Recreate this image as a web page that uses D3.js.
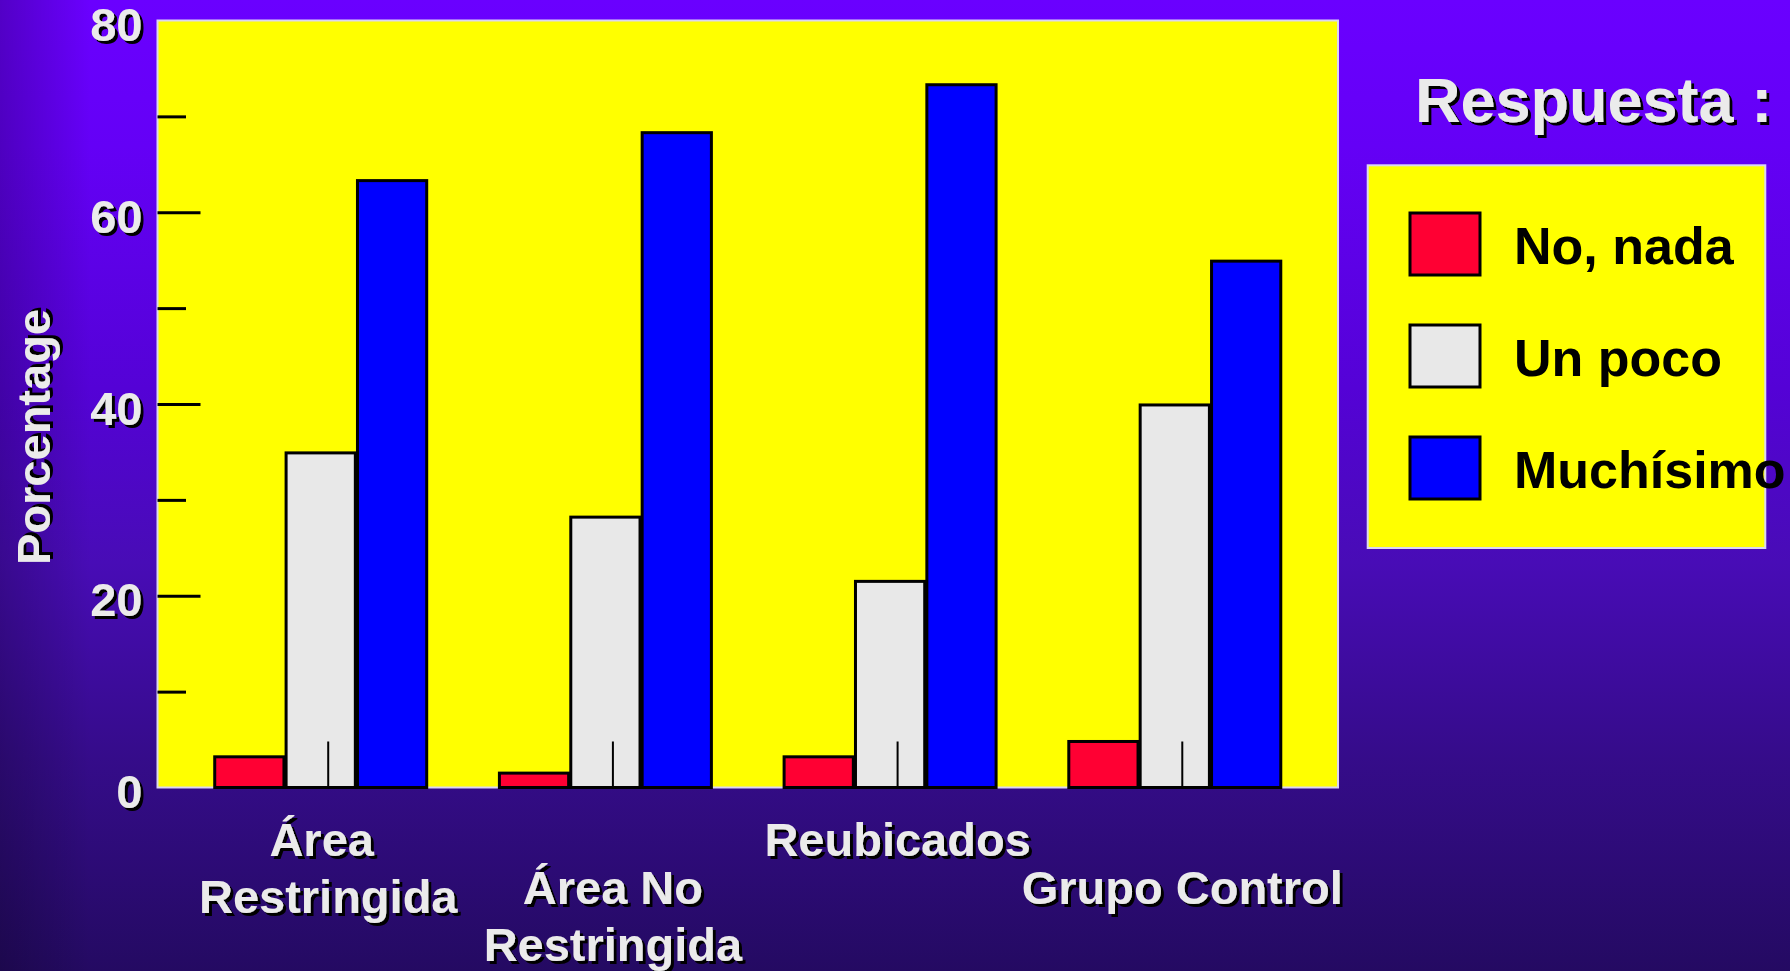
<!DOCTYPE html>
<html>
<head>
<meta charset="utf-8">
<script src="https://cdn.jsdelivr.net/npm/d3@7"></script>
<style>
  body { margin: 0; overflow: hidden; }
  text { font-family: "Liberation Sans", Arial, sans-serif; font-weight: bold; }
</style>
</head>
<body>
<div id="viz"></div>
<script>
// data
var categories = ["Área Restringida", "Área No Restringida", "Reubicados", "Grupo Control"];
// the first label wraps after "Área " and keeps its trailing space when centred
var categoryLines = [["Área\u00a0", "Restringida"], ["Área No", "Restringida"], ["Reubicados"], ["Grupo Control"]];
var seriesNames = ["No, nada", "Un poco", "Muchísimo"];
var seriesColors = ["#ff0033", "#e8e8e8", "#0000ff"];
var noNada = [3.2, 1.5, 3.2, 4.8];
var unPoco = [34.9, 28.2, 21.5, 39.9];
var muchisimo = [63.3, 68.3, 73.3, 54.9];
var majorTicks = [0, 20, 40, 60, 80];
var minorTicks = [10, 30, 50, 70];

var series = [noNada, unPoco, muchisimo];

var W = 1790, H = 971;
// plot box (note: "top" is taken by window.top, so use plot* names)
var plotLeft = 157.5, plotRight = 1338, plotTop = 20.5, plotBottom = 787.5;

var svg = d3.select("#viz").append("svg")
    .attr("width", W)
    .attr("height", H);

var defs = svg.append("defs");

// background: violet to dark purple, a bit darker on the left edge
var bg = defs.append("linearGradient").attr("id", "bg")
    .attr("x1", 0).attr("y1", 0).attr("x2", 0).attr("y2", 1);
[[0, "#6a00ff"], [0.15, "#6400f6"], [0.4, "#5402d6"], [0.58, "#480cb6"],
 [0.78, "#350c8a"], [1, "#240a62"]].forEach(function(s) {
  bg.append("stop").attr("offset", s[0]).attr("stop-color", s[1]);
});
var edge = defs.append("linearGradient").attr("id", "edge")
    .attr("x1", 0).attr("y1", 0).attr("x2", 1).attr("y2", 0);
edge.append("stop").attr("offset", 0).attr("stop-color", "#000").attr("stop-opacity", 0.22);
edge.append("stop").attr("offset", 1).attr("stop-color", "#000").attr("stop-opacity", 0);

var shadow = defs.append("filter").attr("id", "shadow")
    .attr("x", "-10%").attr("y", "-20%").attr("width", "130%").attr("height", "150%");
shadow.append("feDropShadow").attr("dx", 3).attr("dy", 3)
    .attr("stdDeviation", 0).attr("flood-color", "#000").attr("flood-opacity", 1);

svg.append("rect").attr("width", W).attr("height", H).attr("fill", "url(#bg)");
svg.append("rect").attr("width", 90).attr("height", H).attr("fill", "url(#edge)");

// scales
var x = d3.scaleBand()
    .domain(categories)
    .range([plotLeft, plotRight])
    .paddingInner(0.2554)
    .paddingOuter(0.201);

var xs = d3.scaleBand()
    .domain(d3.range(series.length))
    .range([0, x.bandwidth()])
    .paddingInner(0.03);

var y = d3.scaleLinear()
    .domain([0, 80])
    .range([plotBottom, plotTop]);

// the category ticks/labels sit a little right of the bar group centres
var tickShift = 7.5;

// plot area
svg.append("rect")
    .attr("x", plotLeft).attr("y", plotTop)
    .attr("width", plotRight - plotLeft).attr("height", plotBottom - plotTop)
    .attr("fill", "#ffff00")
    .attr("stroke", "#dcd6f2")
    .attr("stroke-width", 2);

// bars
var groups = svg.append("g").selectAll("g")
    .data(categories)
    .join("g")
    .attr("transform", function(d) { return "translate(" + x(d) + ",0)"; });

groups.selectAll("rect")
    .data(function(d, i) { return series.map(function(s, k) { return {k: k, v: s[i]}; }); })
    .join("rect")
    .attr("x", function(d) { return xs(d.k); })
    .attr("y", function(d) { return y(d.v); })
    .attr("width", xs.bandwidth())
    .attr("height", function(d) { return plotBottom - y(d.v); })
    .attr("fill", function(d) { return seriesColors[d.k]; })
    .attr("stroke", "#000")
    .attr("stroke-width", 3);

// category ticks pointing up into the plot
var xAxis = svg.append("g")
    .attr("transform", "translate(" + tickShift + "," + plotBottom + ")")
    .call(d3.axisBottom(x).tickSize(-46).tickFormat(""));
xAxis.select(".domain").remove();
xAxis.selectAll(".tick line").attr("stroke", "#000").attr("stroke-width", 2);

// y axis: major and minor ticks drawn inside the plot
var yMinor = svg.append("g")
    .attr("transform", "translate(" + plotLeft + ",0)")
    .call(d3.axisLeft(y).tickValues(minorTicks).tickSize(-28.5).tickFormat(""));
yMinor.select(".domain").remove();
yMinor.selectAll(".tick line").attr("stroke", "#000").attr("stroke-width", 3);

var yAxis = svg.append("g")
    .attr("transform", "translate(" + plotLeft + ",0)")
    .call(d3.axisLeft(y).tickValues(majorTicks).tickSize(-43).tickPadding(15));
yAxis.select(".domain").remove();
yAxis.selectAll(".tick line")
    .attr("stroke", "#000").attr("stroke-width", 3)
    .attr("display", function(d) { return (d === 0 || d === 80) ? "none" : null; });
yAxis.selectAll(".tick text")
    .attr("dy", null)
    .attr("y", 20)
    .attr("fill", "#ebebeb")
    .attr("font-size", 47)
    .attr("font-family", "'Liberation Sans', Arial, sans-serif")
    .attr("font-weight", "bold")
    .attr("filter", "url(#shadow)");

// y title
svg.append("text")
    .attr("transform", "translate(50,437) rotate(-90)")
    .attr("text-anchor", "middle")
    .attr("font-size", 47)
    .attr("fill", "#ebebeb")
    .attr("filter", "url(#shadow)")
    .text("Porcentage");

// category labels, staggered in two rows
var labels = svg.append("g").selectAll("text")
    .data(categories)
    .join("text")
    .attr("x", function(d) { return x(d) + x.bandwidth() / 2 + tickShift; })
    .attr("y", function(d, i) { return i % 2 === 0 ? 856 : 904; })
    .attr("text-anchor", "middle")
    .attr("font-size", 47)
    .attr("fill", "#ebebeb")
    .attr("filter", "url(#shadow)");

labels.selectAll("tspan")
    .data(function(d, i) { return categoryLines[i]; })
    .join("tspan")
    .attr("x", function() { return d3.select(this.parentNode).attr("x"); })
    .attr("dy", function(d, j) { return j === 0 ? 0 : 57; })
    .text(function(d) { return d; });

// legend
svg.append("text")
    .attr("x", 1415)
    .attr("y", 122)
    .attr("font-size", 63)
    .attr("fill", "#ebebeb")
    .attr("filter", "url(#shadow)")
    .text("Respuesta :");

svg.append("rect")
    .attr("x", 1367.7).attr("y", 165.3)
    .attr("width", 397.6).attr("height", 382.7)
    .attr("fill", "#ffff00")
    .attr("stroke", "#dcd6f2")
    .attr("stroke-width", 2);

var legend = svg.append("g").selectAll("g")
    .data(seriesNames)
    .join("g")
    .attr("transform", function(d, i) { return "translate(1410," + (213 + i * 112) + ")"; });

legend.append("rect")
    .attr("width", 70).attr("height", 62)
    .attr("fill", function(d, i) { return seriesColors[i]; })
    .attr("stroke", "#000")
    .attr("stroke-width", 3);

legend.append("text")
    .attr("x", 104)
    .attr("y", 51)
    .attr("font-size", 52)
    .attr("fill", "#000")
    .text(function(d) { return d; });
</script>
</body>
</html>
